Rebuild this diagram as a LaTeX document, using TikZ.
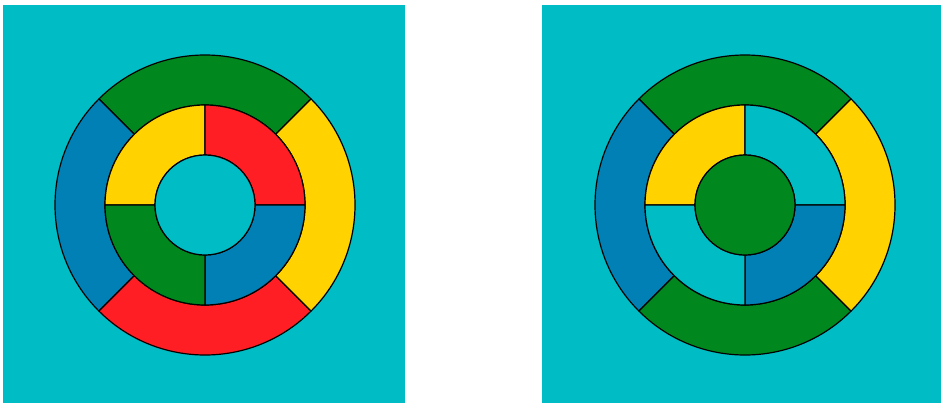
\documentclass[tikz,border=0pt]{standalone}
\definecolor{tealc}{RGB}{0,188,196}
\definecolor{greenc}{RGB}{0,136,30}
\definecolor{bluec}{RGB}{0,128,180}
\definecolor{redc}{RGB}{255,30,35}
\definecolor{yellowc}{RGB}{255,210,0}
\begin{document}
\begin{tikzpicture}[x=1pt,y=-1pt,
  seg/.style={draw=black,line width=1.2pt,line join=round},
  bg/.style={fill=tealc}]
\useasboundingbox (0,0) rectangle (941,404);
\fill[white] (0,0) rectangle (941,404);
\newcommand{\ringseg}[6]{% cx,cy,r1,r2,a1,a2 (math angles, y down so negate)
}
% helper style via pic
\tikzset{
  pics/annulus/.style args={#1/#2/#3/#4/#5}{code={
    \filldraw[seg,fill=#5] ({cos(#3)*#2},{-sin(#3)*#2}) arc[start angle=-#3,end angle=-#4,radius=#2]
      -- ({cos(#4)*#1},{-sin(#4)*#1}) arc[start angle=-#4,end angle=-#3,radius=#1] -- cycle;
  }}
}
% left panel
\fill[bg] (3,5) rectangle (405,403);
\begin{scope}[shift={(205,205)}]
  \pic {annulus=100/150/45/135/greenc};
  \pic {annulus=100/150/135/225/bluec};
  \pic {annulus=100/150/225/315/redc};
  \pic {annulus=100/150/-45/45/yellowc};
  \pic {annulus=50/100/90/180/yellowc};
  \pic {annulus=50/100/0/90/redc};
  \pic {annulus=50/100/-90/0/bluec};
  \pic {annulus=50/100/180/270/greenc};
  \filldraw[seg,fill=tealc] (0,0) circle[radius=50];
\end{scope}
% right panel
\fill[bg] (542,5) rectangle (941,403);
\begin{scope}[shift={(745,205)}]
  \pic {annulus=100/150/45/135/greenc};
  \pic {annulus=100/150/135/225/bluec};
  \pic {annulus=100/150/225/315/greenc};
  \pic {annulus=100/150/-45/45/yellowc};
  \pic {annulus=50/100/90/180/yellowc};
  \pic {annulus=50/100/0/90/tealc};
  \pic {annulus=50/100/-90/0/bluec};
  \pic {annulus=50/100/180/270/tealc};
  \filldraw[seg,fill=greenc] (0,0) circle[radius=50];
\end{scope}
\end{tikzpicture}
\end{document}
